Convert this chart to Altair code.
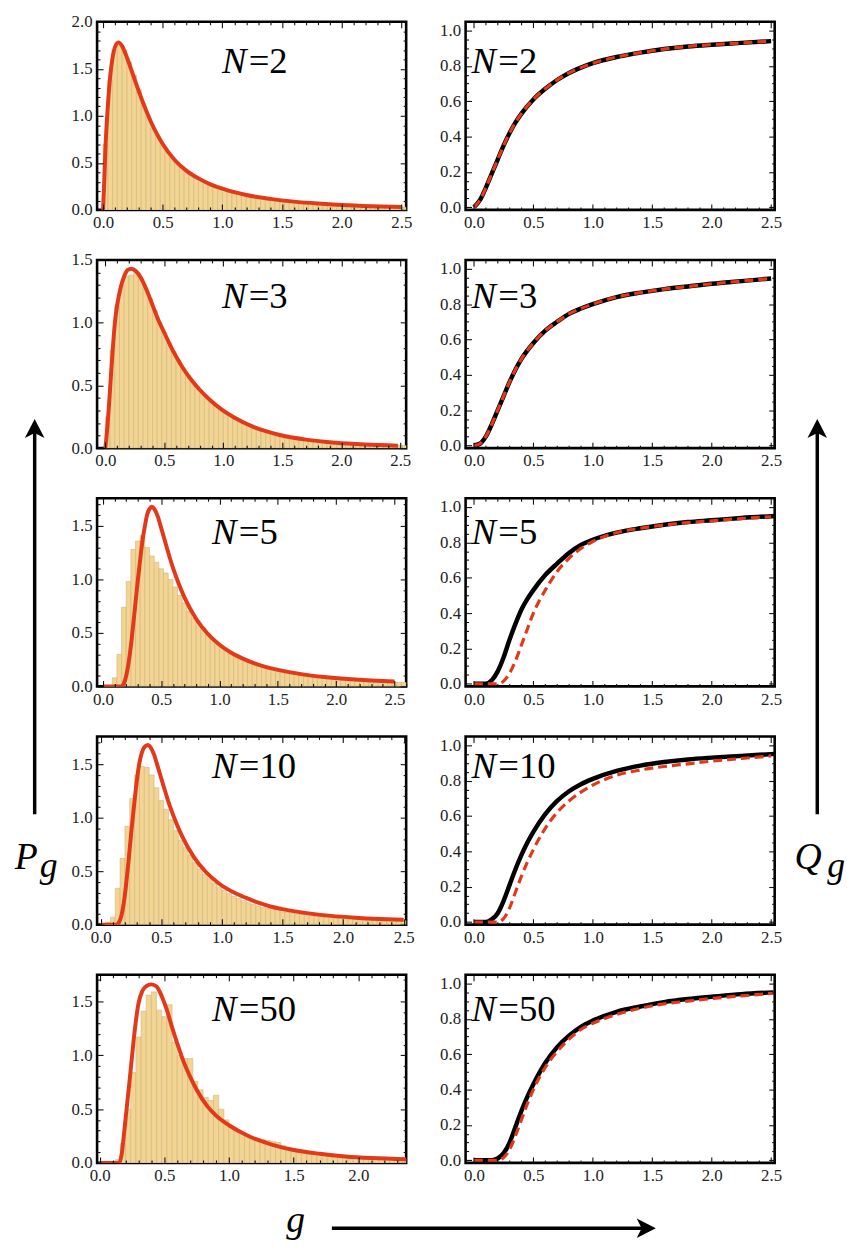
import altair as alt
import pandas as pd

FONT = "Liberation Serif, Times New Roman, DejaVu Serif, serif"
RED = "#E3391B"
BAR_FILL = "#F2D593"
BAR_EDGE = "#CFB57E"
PW, PH = 312, 190
BIN_WIDTH = 0.04

N_LABELS = ["2", "3", "5", "10", "50"]

# ---------------- histogram bar heights (bins of width 0.04 from g = 0) ----------------
HIST_N2 = [0.70, 1.38, 1.70, 1.77, 1.70, 1.57, 1.43, 1.28, 1.13, 0.99,
           0.87, 0.78, 0.69, 0.62, 0.56, 0.51, 0.46, 0.42, 0.38, 0.35,
           0.32, 0.29, 0.27, 0.25, 0.23, 0.21, 0.195, 0.18, 0.17, 0.16,
           0.15, 0.14, 0.13, 0.122, 0.115, 0.108, 0.10, 0.095, 0.09, 0.085,
           0.08, 0.076, 0.072, 0.068, 0.065, 0.062, 0.059, 0.056, 0.053, 0.05,
           0.048, 0.046, 0.044, 0.042, 0.04, 0.038, 0.037, 0.035, 0.034, 0.033,
           0.032, 0.031, 0.03, 0.029, 0.028, 0.028]
HIST_N3 = [0.25, 0.78, 1.13, 1.30, 1.37, 1.38, 1.40, 1.35, 1.28, 1.19,
           1.10, 1.00, 0.92, 0.84, 0.77, 0.70, 0.64, 0.58, 0.53, 0.49,
           0.44, 0.40, 0.37, 0.34, 0.31, 0.29, 0.26, 0.24, 0.22, 0.20,
           0.185, 0.17, 0.155, 0.14, 0.13, 0.12, 0.11, 0.10, 0.095, 0.088,
           0.08, 0.075, 0.07, 0.065, 0.06, 0.056, 0.052, 0.048, 0.045, 0.042,
           0.04, 0.038, 0.036, 0.034, 0.032, 0.03, 0.028, 0.027, 0.026, 0.025,
           0.024, 0.023, 0.022, 0.021, 0.02, 0.02]
HIST_N5 = [0.0, 0.01, 0.08, 0.30, 0.74, 0.98, 1.28, 1.36, 1.41, 1.30,
           1.22, 1.16, 1.10, 1.06, 1.00, 0.93, 0.85, 0.78, 0.70, 0.64,
           0.60, 0.55, 0.50, 0.45, 0.41, 0.37, 0.34, 0.31, 0.29, 0.27,
           0.25, 0.23, 0.215, 0.20, 0.185, 0.17, 0.16, 0.15, 0.14, 0.13,
           0.125, 0.117, 0.11, 0.104, 0.098, 0.092, 0.087, 0.082, 0.078, 0.074,
           0.07, 0.066, 0.063, 0.06, 0.057, 0.054, 0.052, 0.05, 0.048, 0.046,
           0.044, 0.042, 0.04, 0.038, 0.036, 0.035]
HIST_N10 = [0.0, 0.02, 0.07, 0.34, 0.62, 0.92, 1.18, 1.40, 1.48, 1.47,
            1.40, 1.28, 1.16, 1.08, 0.98, 0.88, 0.79, 0.72, 0.65, 0.58,
            0.52, 0.47, 0.43, 0.39, 0.35, 0.32, 0.29, 0.265, 0.245, 0.225,
            0.205, 0.19, 0.175, 0.16, 0.15, 0.14, 0.13, 0.12, 0.115, 0.108,
            0.10, 0.095, 0.09, 0.085, 0.08, 0.076, 0.072, 0.068, 0.065, 0.062,
            0.059, 0.056, 0.054, 0.052, 0.05, 0.048, 0.046, 0.044, 0.042, 0.041,
            0.04, 0.038, 0.037, 0.036, 0.035, 0.034]
HIST_N50 = [0.0, 0.0, 0.005, 0.03, 0.18, 0.50, 0.84, 1.17, 1.41, 1.56,
            1.59, 1.42, 1.36, 1.47, 1.12, 1.00, 0.97, 0.97, 0.76, 0.68,
            0.61, 0.58, 0.63, 0.50, 0.40, 0.33, 0.30, 0.28, 0.26, 0.24,
            0.23, 0.22, 0.21, 0.20, 0.19, 0.16, 0.145, 0.135, 0.125, 0.115,
            0.105, 0.098, 0.09, 0.084, 0.078, 0.072, 0.067, 0.062, 0.058, 0.055,
            0.052, 0.049, 0.046, 0.044, 0.042, 0.04, 0.038, 0.036, 0.035, 0.034,
            0.033, 0.033, 0.032, 0.032, 0.031, 0.031]

# ---------------- red theory curves P_g (left column) ----------------
PDF_N2_X = [0.0, 0.01, 0.02, 0.04, 0.06, 0.08, 0.10, 0.13, 0.16, 0.20, 0.25, 0.30, 0.35, 0.40,
            0.45, 0.50, 0.60, 0.70, 0.80, 0.90, 1.00, 1.20, 1.40, 1.60, 1.80, 2.00, 2.25, 2.50]
PDF_N2_Y = [0.0, 0.30, 0.65, 1.10, 1.42, 1.62, 1.73, 1.78, 1.74, 1.62, 1.44, 1.26, 1.09, 0.94,
            0.81, 0.70, 0.53, 0.415, 0.335, 0.272, 0.225, 0.158, 0.117, 0.088, 0.068, 0.053, 0.04, 0.031]
PDF_N3_X = [0.0, 0.02, 0.04, 0.06, 0.08, 0.10, 0.13, 0.16, 0.19, 0.22, 0.26, 0.30, 0.35, 0.40,
            0.45, 0.50, 0.55, 0.60, 0.66, 0.72, 0.79, 0.88, 0.99, 1.10, 1.24, 1.36, 1.47, 1.70,
            1.95, 2.20, 2.48]
PDF_N3_Y = [0.0, 0.20, 0.47, 0.75, 0.99, 1.14, 1.28, 1.37, 1.42, 1.43, 1.41, 1.36, 1.26, 1.14,
            1.02, 0.92, 0.82, 0.73, 0.635, 0.555, 0.475, 0.39, 0.305, 0.24, 0.175, 0.135, 0.107, 0.068,
            0.043, 0.029, 0.02]
PDF_N5_X = [0.0, 0.16, 0.18, 0.20, 0.22, 0.24, 0.26, 0.28, 0.30, 0.32, 0.34, 0.36, 0.38, 0.40,
            0.42, 0.44, 0.47, 0.50, 0.55, 0.60, 0.65, 0.70, 0.80, 0.90, 1.00, 1.10, 1.20, 1.30,
            1.40, 1.50, 1.70, 1.90, 2.10, 2.30, 2.50]
PDF_N5_Y = [0.0, 0.0, 0.03, 0.10, 0.22, 0.38, 0.58, 0.79, 1.00, 1.19, 1.37, 1.50, 1.61, 1.66,
            1.68, 1.66, 1.59, 1.48, 1.29, 1.11, 0.96, 0.83, 0.63, 0.49, 0.39, 0.315, 0.26, 0.215,
            0.18, 0.155, 0.115, 0.088, 0.069, 0.055, 0.045]
PDF_N10_X = [0.0, 0.13, 0.15, 0.17, 0.19, 0.21, 0.23, 0.25, 0.27, 0.29, 0.31, 0.33, 0.35, 0.37,
             0.39, 0.41, 0.44, 0.47, 0.52, 0.57, 0.62, 0.67, 0.77, 0.87, 0.97, 1.10, 1.20, 1.30,
             1.40, 1.50, 1.70, 1.90, 2.10, 2.30, 2.50]
PDF_N10_Y = [0.0, 0.0, 0.02, 0.08, 0.20, 0.38, 0.60, 0.84, 1.06, 1.27, 1.45, 1.57, 1.64, 1.67,
             1.68, 1.66, 1.59, 1.48, 1.29, 1.11, 0.96, 0.83, 0.63, 0.49, 0.39, 0.30, 0.25, 0.205,
             0.17, 0.145, 0.108, 0.082, 0.065, 0.053, 0.045]
PDF_N50_X = [0.0, 0.15, 0.17, 0.19, 0.21, 0.23, 0.25, 0.27, 0.30, 0.33, 0.37, 0.40, 0.44, 0.48,
             0.52, 0.56, 0.60, 0.64, 0.70, 0.75, 0.83, 0.90, 1.00, 1.15, 1.33, 1.50, 1.70, 1.90,
             2.10, 2.40]
PDF_N50_Y = [0.0, 0.0, 0.08, 0.29, 0.52, 0.75, 0.99, 1.22, 1.48, 1.60, 1.65, 1.66, 1.64, 1.55,
             1.42, 1.26, 1.11, 0.97, 0.80, 0.68, 0.53, 0.44, 0.35, 0.25, 0.17, 0.12, 0.085, 0.06,
             0.045, 0.033]

# ---------------- Q_g curves (right column): black solid and red dashed ----------------
CDF_N2_BX = [0.0, 0.05, 0.10, 0.15, 0.20, 0.25, 0.30, 0.35, 0.40, 0.50, 0.60, 0.70, 0.80, 0.90,
             1.00, 1.20, 1.40, 1.60, 1.80, 2.00, 2.25, 2.50]
CDF_N2_BY = [0.0, 0.04, 0.11, 0.19, 0.27, 0.35, 0.42, 0.48, 0.53, 0.61, 0.67, 0.72, 0.76, 0.79,
             0.815, 0.85, 0.875, 0.895, 0.91, 0.92, 0.93, 0.94]
CDF_N2_RX = [0.0, 0.05, 0.10, 0.15, 0.20, 0.25, 0.30, 0.35, 0.40, 0.50, 0.60, 0.70, 0.80, 0.90,
             1.00, 1.20, 1.40, 1.60, 1.80, 2.00, 2.25, 2.50]
CDF_N2_RY = [0.0, 0.04, 0.11, 0.19, 0.27, 0.35, 0.42, 0.48, 0.53, 0.61, 0.67, 0.72, 0.76, 0.79,
             0.815, 0.85, 0.875, 0.895, 0.91, 0.92, 0.93, 0.94]
CDF_N3_BX = [0.0, 0.05, 0.10, 0.15, 0.20, 0.25, 0.30, 0.35, 0.40, 0.50, 0.60, 0.70, 0.80, 0.90,
             1.00, 1.20, 1.40, 1.60, 1.80, 2.00, 2.25, 2.50]
CDF_N3_BY = [0.0, 0.01, 0.05, 0.12, 0.20, 0.28, 0.36, 0.43, 0.49, 0.58, 0.65, 0.70, 0.745, 0.775,
             0.80, 0.84, 0.865, 0.885, 0.90, 0.915, 0.93, 0.945]
CDF_N3_RX = [0.0, 0.05, 0.10, 0.15, 0.20, 0.25, 0.30, 0.35, 0.40, 0.50, 0.60, 0.70, 0.80, 0.90,
             1.00, 1.20, 1.40, 1.60, 1.80, 2.00, 2.25, 2.50]
CDF_N3_RY = [0.0, 0.01, 0.05, 0.12, 0.20, 0.28, 0.36, 0.43, 0.49, 0.58, 0.65, 0.70, 0.745, 0.775,
             0.80, 0.84, 0.865, 0.885, 0.90, 0.915, 0.93, 0.945]
CDF_N5_BX = [0.0, 0.10, 0.15, 0.20, 0.25, 0.30, 0.35, 0.40, 0.45, 0.50, 0.60, 0.70, 0.80, 0.90,
             1.00, 1.20, 1.40, 1.60, 1.80, 2.00, 2.25, 2.55]
CDF_N5_BY = [0.0, 0.0, 0.02, 0.07, 0.15, 0.25, 0.34, 0.42, 0.48, 0.53, 0.615, 0.68, 0.74, 0.785,
             0.815, 0.855, 0.88, 0.90, 0.915, 0.925, 0.938, 0.95]
CDF_N5_RX = [0.0, 0.20, 0.25, 0.30, 0.35, 0.40, 0.45, 0.50, 0.55, 0.60, 0.70, 0.80, 0.90, 1.00,
             1.20, 1.40, 1.60, 1.80, 2.00, 2.25, 2.50]
CDF_N5_RY = [0.0, 0.0, 0.015, 0.06, 0.13, 0.22, 0.31, 0.40, 0.47, 0.53, 0.635, 0.71, 0.765, 0.805,
             0.855, 0.88, 0.898, 0.912, 0.922, 0.935, 0.945]
CDF_N10_BX = [0.0, 0.10, 0.15, 0.20, 0.25, 0.30, 0.35, 0.40, 0.45, 0.50, 0.60, 0.70, 0.80, 0.90,
              1.00, 1.20, 1.40, 1.60, 1.80, 2.00, 2.25, 2.55]
CDF_N10_BY = [0.0, 0.0, 0.015, 0.05, 0.12, 0.21, 0.30, 0.38, 0.45, 0.51, 0.61, 0.685, 0.74, 0.78,
              0.81, 0.855, 0.885, 0.905, 0.92, 0.93, 0.94, 0.952]
CDF_N10_RX = [0.0, 0.20, 0.25, 0.30, 0.35, 0.40, 0.45, 0.50, 0.60, 0.70, 0.80, 0.90, 1.00, 1.20,
              1.40, 1.60, 1.80, 2.00, 2.25, 2.50]
CDF_N10_RY = [0.0, 0.0, 0.02, 0.08, 0.17, 0.26, 0.34, 0.41, 0.53, 0.62, 0.685, 0.735, 0.775, 0.83,
              0.86, 0.88, 0.895, 0.91, 0.925, 0.94]
CDF_N50_BX = [0.0, 0.15, 0.20, 0.25, 0.30, 0.35, 0.40, 0.45, 0.50, 0.60, 0.70, 0.80, 0.90, 1.00,
              1.20, 1.40, 1.60, 1.80, 2.00, 2.25, 2.52]
CDF_N50_BY = [0.0, 0.0, 0.01, 0.04, 0.10, 0.19, 0.28, 0.36, 0.43, 0.55, 0.64, 0.705, 0.755, 0.79,
              0.84, 0.87, 0.895, 0.912, 0.925, 0.94, 0.95]
CDF_N50_RX = [0.0, 0.20, 0.25, 0.30, 0.35, 0.40, 0.45, 0.50, 0.60, 0.70, 0.80, 0.90, 1.00, 1.20,
              1.40, 1.60, 1.80, 2.00, 2.25, 2.52]
CDF_N50_RY = [0.0, 0.0, 0.015, 0.06, 0.14, 0.23, 0.32, 0.40, 0.525, 0.615, 0.685, 0.74, 0.775, 0.825,
              0.86, 0.885, 0.90, 0.915, 0.93, 0.945]

# ---------------- axis ranges and ticks ----------------
LEFT_XDOM = [[-0.05, 2.54], [-0.07, 2.55], [-0.05, 2.6], [-0.03, 2.52], [-0.02, 2.37]]
LEFT_YDOM = [[0.0, 2.0], [0.0, 1.5], [0.0, 1.76], [0.0, 1.76], [0.0, 1.75]]
RIGHT_XDOM = [-0.07, 2.53]
RIGHT_YDOM = [-0.015, 1.05]

X_MAJOR = [0.0, 0.5, 1.0, 1.5, 2.0, 2.5]
X_MINOR = [0.1, 0.2, 0.3, 0.4, 0.6, 0.7, 0.8, 0.9, 1.1, 1.2, 1.3, 1.4, 1.6, 1.7, 1.8, 1.9,
           2.1, 2.2, 2.3, 2.4, 2.6]
YL_MAJOR = [0.0, 0.5, 1.0, 1.5, 2.0]
YL_MINOR = [0.1, 0.2, 0.3, 0.4, 0.6, 0.7, 0.8, 0.9, 1.1, 1.2, 1.3, 1.4, 1.6, 1.7, 1.8, 1.9]
YR_MAJOR = [0.0, 0.2, 0.4, 0.6, 0.8, 1.0]
YR_MINOR = [0.05, 0.1, 0.15, 0.25, 0.3, 0.35, 0.45, 0.5, 0.55, 0.65, 0.7, 0.75, 0.85, 0.9, 0.95]

# label positions inside panels (px from frame top-left)
LEFT_NX = [126, 126, 116, 116, 116]
RIGHT_NX = [6, 6, 6, 6, 6]
N_BASE = [52, 49, 46, 42, 47]

# page geometry (absolute pixel positions)
FRAME_LEFT_L, FRAME_LEFT_R = 96, 468
ROW_GAP = 50.5
ROW_TOPS = [17 + k * (PH + ROW_GAP) for k in range(5)]

ONE = pd.DataFrame({"k": [0]})
ARROW_UP = "M0,-1L0.9,0.75L0,0.3L-0.9,0.75Z"
ARROW_RIGHT = "M1,0L-0.75,0.9L-0.3,0L-0.75,-0.9Z"


def in_dom(vals, dom):
    return [v for v in vals if dom[0] - 1e-9 <= v <= dom[1] + 1e-9]


def make_axis(orient, values, labels, size):
    kw = dict(orient=orient, values=values, tickSize=size, offset=-size, domain=False,
              grid=False, title=None, ticks=True, tickColor="#111", tickWidth=1.1, zindex=2)
    if labels:
        pad = 5 if orient in ("bottom", "top") else 5
        kw.update(labels=True, format=".1f", labelFont=FONT, labelFontSize=17,
                  labelColor="#222", labelPadding=pad, labelFlush=False, labelOverlap=False)
    else:
        kw.update(labels=False)
    return alt.Axis(**kw)


def txt(s, x, y, size, italic=True):
    kw = dict(text=s, font=FONT, fontSize=size, align="left", baseline="alphabetic", color="black")
    if italic:
        kw["fontStyle"] = "italic"
    return alt.Chart(ONE).mark_text(**kw).encode(x=alt.value(x), y=alt.value(y))


def n_text(label, x, base):
    return [txt("N", x, base, 37), txt("=" + label, x + 27, base, 37, italic=False)]


def v_arrow(x, tip, bottom):
    line = alt.Chart(ONE).mark_rule(color="black", strokeWidth=3.5).encode(
        x=alt.value(x), y=alt.value(tip + 10), y2=alt.value(bottom))
    head = alt.Chart(ONE).mark_point(shape=ARROW_UP, filled=True, color="black", opacity=1,
                                     size=484, strokeWidth=0).encode(
        x=alt.value(x), y=alt.value(tip + 11))
    return [line, head]


def h_arrow(x0, tip, y):
    line = alt.Chart(ONE).mark_rule(color="black", strokeWidth=3.5).encode(
        x=alt.value(x0), x2=alt.value(tip - 10), y=alt.value(y))
    head = alt.Chart(ONE).mark_point(shape=ARROW_RIGHT, filled=True, color="black", opacity=1,
                                     size=484, strokeWidth=0).encode(
        x=alt.value(tip - 11), y=alt.value(y))
    return [line, head]


def ghosts(df, xs, ys, xmin, ymin):
    g1 = alt.Chart(df).mark_point(opacity=0).encode(
        x=alt.X("x:Q", scale=xs, axis=make_axis("bottom", xmin, False, 3)),
        y=alt.Y("y:Q", scale=ys, axis=make_axis("left", ymin, False, 3)))
    g2 = alt.Chart(df).mark_point(opacity=0).encode(
        x=alt.X("x:Q", scale=xs, axis=make_axis("top", xmin, False, 3)),
        y=alt.Y("y:Q", scale=ys, axis=make_axis("right", ymin, False, 3)))
    return [g1, g2]


def left_panel(i, hist, cx, cy, extra):
    xdom, ydom = LEFT_XDOM[i], LEFT_YDOM[i]
    nb = len(hist)
    edges = [round(k * BIN_WIDTH, 4) for k in range(nb)]
    bars_df = pd.DataFrame({"x0": edges, "x1": [round(e + BIN_WIDTH, 4) for e in edges],
                            "h": hist, "b": [0.0] * nb})
    curve_df = pd.DataFrame({"x": cx, "y": cy})
    xs = alt.Scale(domain=xdom, nice=False, zero=False)
    ys = alt.Scale(domain=ydom, nice=False, zero=False)
    xmaj, xmin = in_dom(X_MAJOR, xdom), in_dom(X_MINOR, xdom)
    ymaj, ymin = in_dom(YL_MAJOR, ydom), in_dom(YL_MINOR, ydom)
    bars = alt.Chart(bars_df).mark_rect(fill=BAR_FILL, stroke=BAR_EDGE, strokeWidth=0.6,
                                        clip=True).encode(
        x=alt.X("x0:Q", scale=xs, axis=make_axis("bottom", xmaj, True, 6)),
        x2="x1:Q",
        y=alt.Y("h:Q", scale=ys, axis=make_axis("left", ymaj, True, 6)),
        y2="b:Q")
    curve = alt.Chart(curve_df).mark_line(color=RED, strokeWidth=4, clip=True,
                                          interpolate="monotone").encode(
        x=alt.X("x:Q", scale=xs, axis=make_axis("top", xmaj, False, 6)),
        y=alt.Y("y:Q", scale=ys, axis=make_axis("right", ymaj, False, 6)))
    layers = [bars, curve] + ghosts(curve_df, xs, ys, xmin, ymin) + \
        n_text(N_LABELS[i], LEFT_NX[i], N_BASE[i]) + extra
    return alt.layer(*layers).resolve_axis(x="independent", y="independent").properties(
        width=PW, height=PH)


def right_panel(i, bx, by, rx, ry, extra):
    bdf = pd.DataFrame({"x": bx, "y": by})
    rdf = pd.DataFrame({"x": rx, "y": ry})
    xs = alt.Scale(domain=RIGHT_XDOM, nice=False, zero=False)
    ys = alt.Scale(domain=RIGHT_YDOM, nice=False, zero=False)
    xmaj, xmin = in_dom(X_MAJOR, RIGHT_XDOM), in_dom(X_MINOR, RIGHT_XDOM)
    black = alt.Chart(bdf).mark_line(color="black", strokeWidth=4.5, clip=True,
                                     interpolate="monotone").encode(
        x=alt.X("x:Q", scale=xs, axis=make_axis("bottom", xmaj, True, 6)),
        y=alt.Y("y:Q", scale=ys, axis=make_axis("left", YR_MAJOR, True, 6)))
    red = alt.Chart(rdf).mark_line(color=RED, strokeWidth=3.2, strokeDash=[9, 5], clip=True,
                                   interpolate="monotone").encode(
        x=alt.X("x:Q", scale=xs, axis=make_axis("top", xmaj, False, 6)),
        y=alt.Y("y:Q", scale=ys, axis=make_axis("right", YR_MAJOR, False, 6)))
    layers = [black, red] + ghosts(bdf, xs, ys, xmin, YR_MINOR) + \
        n_text(N_LABELS[i], RIGHT_NX[i], N_BASE[i]) + extra
    return alt.layer(*layers).resolve_axis(x="independent", y="independent").properties(
        width=PW, height=PH)


HISTS = [HIST_N2, HIST_N3, HIST_N5, HIST_N10, HIST_N50]
PDFS = [(PDF_N2_X, PDF_N2_Y), (PDF_N3_X, PDF_N3_Y), (PDF_N5_X, PDF_N5_Y),
        (PDF_N10_X, PDF_N10_Y), (PDF_N50_X, PDF_N50_Y)]
CDFS = [(CDF_N2_BX, CDF_N2_BY, CDF_N2_RX, CDF_N2_RY), (CDF_N3_BX, CDF_N3_BY, CDF_N3_RX, CDF_N3_RY),
        (CDF_N5_BX, CDF_N5_BY, CDF_N5_RX, CDF_N5_RY), (CDF_N10_BX, CDF_N10_BY, CDF_N10_RX, CDF_N10_RY),
        (CDF_N50_BX, CDF_N50_BY, CDF_N50_RX, CDF_N50_RY)]

# decorations: P_g arrow (left), Q_g arrow (right) in the N=10 row; g arrow under N=50 row
t10 = ROW_TOPS[3]
left_extra = {3: v_arrow(33 - FRAME_LEFT_L, 418 - t10, 817 - t10) +
              [txt("P", 13 - FRAME_LEFT_L, 872 - t10, 38), txt("g", 38 - FRAME_LEFT_L, 880 - t10, 36)],
              4: h_arrow(333 - FRAME_LEFT_L, 660 - FRAME_LEFT_L, 1235 - ROW_TOPS[4]) +
              [txt("g", 287 - FRAME_LEFT_L, 1239 - ROW_TOPS[4], 38)]}
right_extra = {3: v_arrow(823 - FRAME_LEFT_R, 418 - t10, 817 - t10) +
               [txt("Q", 800 - FRAME_LEFT_R, 872 - t10, 38), txt("g", 833 - FRAME_LEFT_R, 880 - t10, 36)]}

cells = []
for i in range(5):
    cells.append(left_panel(i, HISTS[i], *PDFS[i], left_extra.get(i, [])))
    cells.append(right_panel(i, *CDFS[i], right_extra.get(i, [])))

chart = alt.concat(*cells, columns=2, bounds="flush",
                   spacing={"row": ROW_GAP, "column": FRAME_LEFT_R - FRAME_LEFT_L - PW}).properties(
    padding={"left": 13, "top": 5, "right": 0, "bottom": 0}, background="white"
).configure_view(stroke="black", strokeWidth=2.6)

chart.save("out.html", embed_options={"renderer": "svg", "actions": False})
